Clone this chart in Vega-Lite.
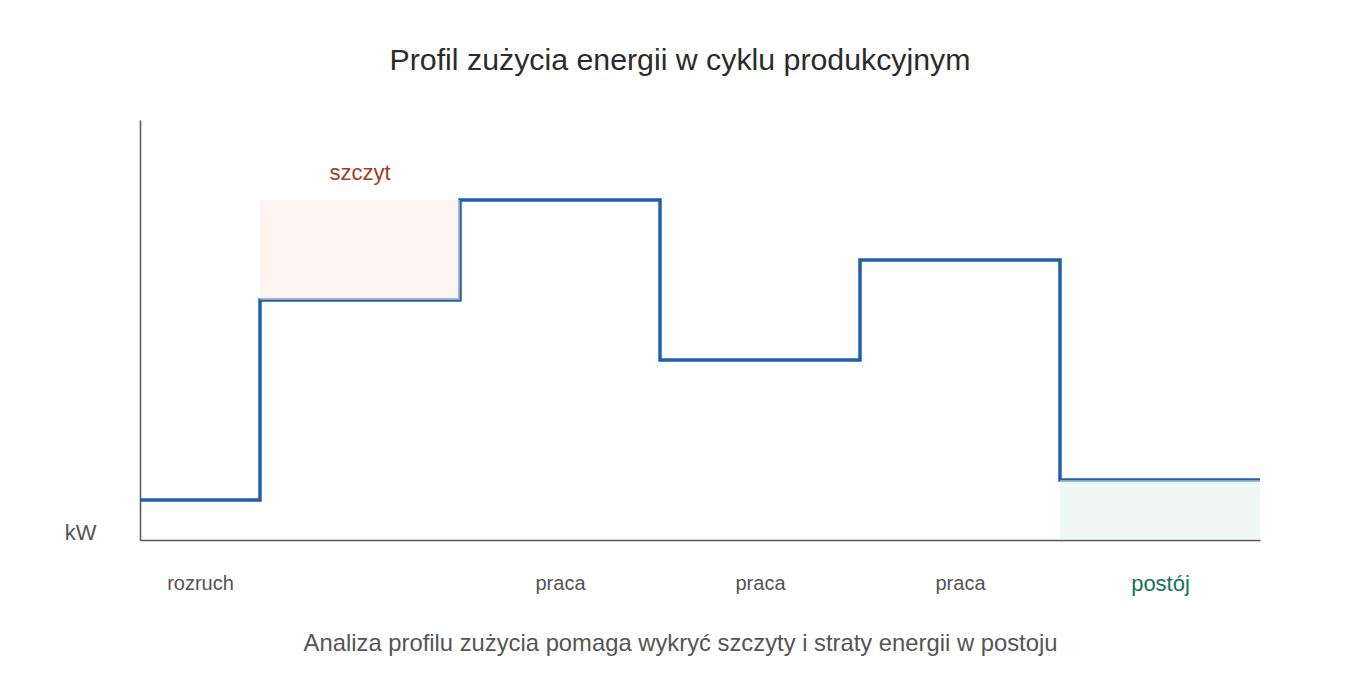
{
  "$schema": "https://vega.github.io/schema/vega-lite/v6.json",
  "autosize": {"type": "none"},
  "width": 1120,
  "height": 420,
  "padding": {"left": 140, "top": 120, "right": 100, "bottom": 140},
  "background": "white",
  "config": {"font": "Liberation Sans", "view": {"stroke": null}},
  "title": {
    "text": "Profil zużycia energii w cyklu produkcyjnym",
    "anchor": "middle",
    "frame": "group",
    "dx": -20,
    "offset": 20,
    "baseline": "alphabetic",
    "fontSize": 30.3,
    "fontWeight": "normal",
    "color": "#2b2b2b"
  },
  "datasets": {
    "steps": [
      {"t": 0, "kW": 10},
      {"t": 3, "kW": 60},
      {"t": 8, "kW": 85},
      {"t": 13, "kW": 45},
      {"t": 18, "kW": 70},
      {"t": 23, "kW": 15},
      {"t": 28, "kW": 15}
    ],
    "zones": [
      {"start": 3, "end": 8, "low": 60, "high": 85, "zone": "szczyt"},
      {"start": 23, "end": 28, "low": 0, "high": 15, "zone": "postój"}
    ],
    "notes": [
      {"t": 5.5, "kW": 85, "label": "szczyt"}
    ]
  },
  "layer": [
    {
      "data": {"name": "steps"},
      "mark": {"type": "line", "interpolate": "step-after", "color": "#2160a6", "strokeWidth": 3.5, "strokeCap": "butt"},
      "encoding": {
        "x": {
          "field": "t", "type": "quantitative",
          "scale": {"domain": [0, 28], "nice": false, "zero": false},
          "axis": {
            "values": [1.5, 10.5, 15.5, 20.5, 25.5],
            "labelExpr": "datum.value == 1.5 ? 'rozruch' : datum.value == 25.5 ? 'postój' : 'praca'",
            "grid": false,
            "ticks": false,
            "tickSize": 0,
            "domainColor": "#555555",
            "domainWidth": 1.5,
            "labelPadding": 43,
            "labelBaseline": "middle",
            "labelFontSize": {"condition": {"test": "datum.value == 25.5", "value": 22}, "value": 20},
            "labelColor": {"condition": {"test": "datum.value == 25.5", "value": "#16745a"}, "value": "#555555"},
            "labelFlush": false,
            "labelOverlap": false,
            "title": "Analiza profilu zużycia pomaga wykryć szczyty i straty energii w postoju",
            "titleFontSize": 23.8,
            "titleFontWeight": "normal",
            "titleColor": "#555555",
            "titleX": 540,
            "titleY": 110,
            "titleAlign": "center",
            "titleBaseline": "alphabetic"
          }
        },
        "y": {
          "field": "kW", "type": "quantitative",
          "scale": {"domain": [0, 105], "nice": false},
          "axis": {
            "labels": false,
            "ticks": false,
            "grid": false,
            "domainColor": "#555555",
            "domainWidth": 1.5,
            "title": "kW",
            "titleAngle": 0,
            "titleX": -60,
            "titleY": 412,
            "titleAlign": "center",
            "titleBaseline": "middle",
            "titleFontSize": 22,
            "titleFontWeight": "normal",
            "titleColor": "#555555"
          }
        }
      }
    },
    {
      "data": {"name": "zones"},
      "mark": {"type": "rect", "opacity": 0.5},
      "encoding": {
        "x": {"field": "start", "type": "quantitative"},
        "x2": {"field": "end"},
        "y": {"field": "low", "type": "quantitative"},
        "y2": {"field": "high"},
        "color": {
          "field": "zone", "type": "nominal",
          "scale": {"domain": ["szczyt", "postój"], "range": ["#fbe7e1", "#ddefe7"]},
          "legend": null
        }
      }
    },
    {
      "data": {"name": "notes"},
      "mark": {"type": "text", "dy": -27, "fontSize": 22, "color": "#9a4024", "baseline": "middle"},
      "encoding": {
        "x": {"field": "t", "type": "quantitative"},
        "y": {"field": "kW", "type": "quantitative"},
        "text": {"field": "label"}
      }
    }
  ]
}
